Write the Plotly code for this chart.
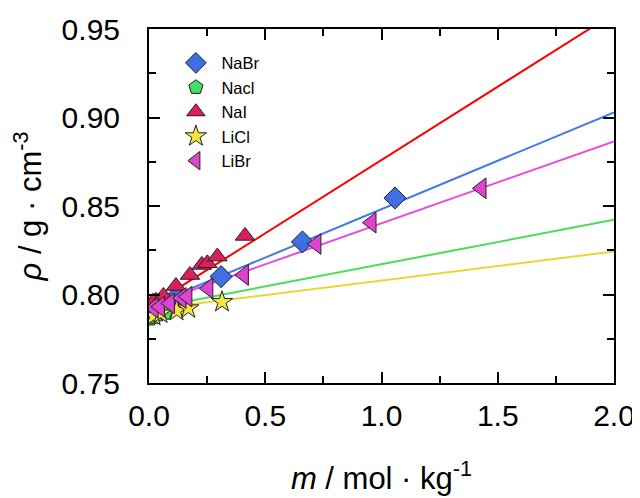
import plotly.graph_objects as go

# ---- data ----
series_names = ["NaBr", "Nacl", "NaI", "LiCl", "LiBr"]

nabr_m = [0.03, 0.12, 0.31, 0.66, 1.058]
nabr_rho = [0.7950, 0.7988, 0.8101, 0.8297, 0.8545]

nacl_m = [0.005, 0.02, 0.04, 0.07]
nacl_rho = [0.7862, 0.7872, 0.7885, 0.7895]

nai_m = [0.0, 0.017, 0.062, 0.116, 0.176, 0.227, 0.251, 0.294, 0.413]
nai_rho = [0.7935, 0.7959, 0.7992, 0.8048, 0.8110, 0.8167, 0.8176, 0.8214, 0.8331]

licl_m = [0.02, 0.05, 0.119, 0.169, 0.314]
licl_rho = [0.7880, 0.7893, 0.7908, 0.7922, 0.7958]

libr_m = [0.02, 0.047, 0.09, 0.14, 0.165, 0.255, 0.408, 0.72, 0.957, 1.43]
libr_rho = [0.7924, 0.7931, 0.7950, 0.7980, 0.7988, 0.8035, 0.8110, 0.8285, 0.8406, 0.8600]

# linear fits (intercept, slope) per series
fit_intercepts = [0.7935, 0.7920, 0.7932, 0.7915, 0.7939]
fit_slopes = [0.0547, 0.0251, 0.0828, 0.0164, 0.0463]
fit_range = [0.0, 2.0]

line_colors = ["#4477E8", "#4CDC5A", "#FF0000", "#E8D634", "#E84CD8"]
marker_colors = ["#3F6FE0", "#44DD66", "#DC1F5C", "#F2E640", "#DD44D0"]
marker_symbols = ["diamond", "pentagon", "triangle-up", "star", "triangle-left"]
marker_sizes = [17, 15, 17, 16, 18]

xs = [nabr_m, nacl_m, nai_m, licl_m, libr_m]
ys = [nabr_rho, nacl_rho, nai_rho, licl_rho, libr_rho]

font_family = "Arial, Liberation Sans, sans-serif"
tick_size = 30
title_size = 31

fig = go.Figure()

for i in range(5):
    lx = fit_range
    ly = [fit_intercepts[i] + fit_slopes[i] * v for v in lx]
    fig.add_trace(go.Scatter(x=lx, y=ly, mode="lines",
                             line=dict(color=line_colors[i], width=2),
                             showlegend=False, hoverinfo="skip"))

for i in range(5):
    fig.add_trace(go.Scatter(x=xs[i], y=ys[i], mode="markers", name=series_names[i],
                             marker=dict(symbol=marker_symbols[i], size=marker_sizes[i],
                                         color=marker_colors[i],
                                         line=dict(color="#222222", width=1))))

axis_common = dict(showline=True, linecolor="black", linewidth=2, mirror="ticks",
                   ticks="inside", ticklen=11, tickwidth=2, tickcolor="black",
                   showgrid=False, zeroline=False, automargin=False,
                   tickfont=dict(size=tick_size, color="black", family=font_family))

fig.update_xaxes(range=[0, 2.0], dtick=0.5, tickformat=".1f",
                 minor=dict(ticks="inside", ticklen=7, tickwidth=2, dtick=0.25, tickcolor="black"),
                 title=dict(text="<i>m</i> / mol · kg<sup>-1</sup>", font=dict(size=title_size, color="black", family=font_family), standoff=36),
                 ticklabelstandoff=5,
                 **axis_common)
fig.update_yaxes(range=[0.75, 0.95], dtick=0.05, tickformat=".2f",
                 minor=dict(ticks="inside", ticklen=7, tickwidth=2, dtick=0.025, tickcolor="black"),
                 title=dict(text="<i>ρ</i> / g · cm<sup>-3</sup>", font=dict(size=title_size, color="black", family=font_family), standoff=11),
                 ticklabelstandoff=21,
                 **axis_common)

fig.update_layout(
    width=640, height=498,
    margin=dict(l=141, r=34, t=21, b=123, autoexpand=False),
    plot_bgcolor="white", paper_bgcolor="white",
    font=dict(family=font_family, color="black"),
    legend=dict(x=0.046, y=0.953, xanchor="left", yanchor="top",
                bgcolor="rgba(0,0,0,0)", font=dict(size=16.5, color="black", family=font_family),
                itemsizing="trace", itemwidth=41, tracegroupgap=0),
)

fig.write_html("out.html")
